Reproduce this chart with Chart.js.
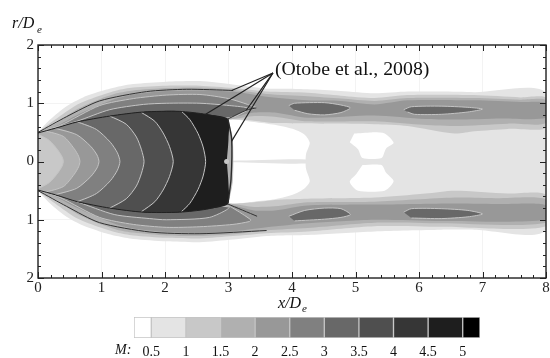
<!DOCTYPE html>
<html>
<head>
<meta charset="utf-8">
<script src="https://cdn.jsdelivr.net/npm/chart.js@4"></script>
<style>
html, body { margin: 0; padding: 0; background: #fff; overflow: hidden; }
#wrap { position: relative; width: 550px; height: 358px; }
canvas { position: absolute; left: 0; filter: blur(0.5px); }
#flow { top: 0; }
#bar { top: 310px; }
</style>
</head>
<body>
<div id="wrap">
<canvas id="flow" width="550" height="358"></canvas>
<canvas id="bar" width="550" height="48"></canvas>
</div>
<script>
// tick labels
const xTicks = [0, 1, 2, 3, 4, 5, 6, 7, 8];
const rTicks = [-2, -1, 0, 1, 2];

// legend
const machTicks = [0.5, 1, 1.5, 2, 2.5, 3, 3.5, 4, 4.5, 5];
const machEdges = [0.25, 0.5, 1, 1.5, 2, 2.5, 3, 3.5, 4, 4.5, 5, 5.25];
const machGrays = ['#ffffff', '#e4e4e4', '#c8c8c8', '#b0b0b0', '#989898', '#808080', '#686868', '#4f4f4f', '#363636', '#1e1e1e', '#000000'];

// contour outlines, [x/De, r/De]
const outer05 = [[0,.5],[.19,.72],[.45,.95],[.71,1.1],[.97,1.2],[1.24,1.28],[1.5,1.33],[2.02,1.37],[2.55,1.38],[3.07,1.32],[3.6,1.25],[3.94,1.25],[4.25,1.24],[4.77,1.21],[5.3,1.17],[5.82,1.2],[6.35,1.2],[6.87,1.19],[8,1.17],
  [8,-1.17],[6.87,-1.17],[6.35,-1.17],[5.3,-1.2],[4.25,-1.26],[3.94,-1.265],[3.6,-1.28],[3.07,-1.34],[2.55,-1.385],[2.02,-1.37],[1.5,-1.33],[1.24,-1.28],[.97,-1.2],[.71,-1.1],[.45,-.95],[.19,-.72],[0,-.5]];
const whiteBehindDisk = [[3.0,.74],[3.4,.68],[3.73,.63],[4.04,.55],[4.2,.46],[4.28,.32],[4.22,.12],[4.22,-.12],[4.28,-.34],[4.2,-.46],[4.04,-.56],[3.73,-.65],[3.4,-.69],[3.0,-.74]];
const streak = [[3.05,.012],[4.22,.035],[4.22,-.035],[3.05,-.012]];
const pocketUpper = [[4.98,.48],[5.25,.5],[5.46,.48],[5.6,.32],[5.48,.22],[5.41,.06],[5.11,.06],[5.04,.21],[4.91,.33]];
const pocketLower = [[5.11,-.06],[5.41,-.06],[5.48,-.19],[5.6,-.34],[5.46,-.5],[5.04,-.5],[4.91,-.35],[5.01,-.22]];

const wing10Upper = [[0,.5],[.27,.72],[.62,.98],[.97,1.13],[1.24,1.22],[1.5,1.27],[2.02,1.3],[2.55,1.3],[3.07,1.26],[3.6,1.2],[4.25,1.18],[4.77,1.13],[5.3,1.09],[5.82,1.14],[6.87,1.14],[7.6,1.1],[8,1.09],
  [8,.58],[7.4,.56],[6.87,.52],[6.56,.48],[5.82,.61],[5.3,.64],[3.73,.66],[3.4,.7],[3.07,.72],[0,.5]];
const wing15Upper = [[0,.5],[.27,.65],[.62,.9],[.97,1.07],[1.24,1.17],[1.5,1.22],[2.02,1.26],[2.55,1.27],[3.07,1.23],[3.6,1.16],[4.25,1.12],[4.77,1.08],[5.3,1.04],[5.82,1.09],[6.87,1.09],[7.6,1.06],[8,1.05],
  [8,.66],[7.4,.65],[6.56,.61],[6.0,.635],[5.3,.69],[4.25,.69],[3.73,.77],[3.4,.78],[3.07,.73],[0,.5]];
const wing20Upper = [[0,.5],[.27,.6],[.62,.8],[.97,.97],[1.24,1.08],[1.5,1.15],[2.02,1.21],[2.55,1.22],[3.07,1.2],[3.6,1.11],[4.25,1.05],[4.77,1.04],[5.3,.98],[5.82,1.05],[6.87,1.05],[7.6,1.02],[8,1],
  [8,.75],[7.3,.74],[6.56,.72],[6.1,.73],[5.3,.79],[4.25,.75],[3.73,.84],[3.4,.84],[3.07,.76],[0,.5]];
const wing25Upper = [[0,.5],[.35,.62],[.97,.96],[1.5,1.08],[2.02,1.14],[2.55,1.15],[3,1.08],[3.3,.98],[3.44,.92],[3.3,.88],[3.07,.76],[0,.5]];
const wing30Upper = [[0,.5],[.61,.69],[1.13,.89],[1.66,.98],[2.02,1],[2.55,1],[3.02,.96],[3.31,.91],[3,.75],[0,.5]];

const wing10Lower = [[0,-.5],[.27,-.72],[.62,-.98],[.97,-1.13],[1.24,-1.22],[1.5,-1.27],[2.02,-1.31],[2.55,-1.32],[3.07,-1.28],[3.6,-1.23],[4.25,-1.2],[5.3,-1.11],[6.35,-1.12],[8,-1.11],
  [8,-.57],[7.4,-.55],[6.56,-.5],[6.1,-.55],[5.3,-.62],[4.25,-.64],[3.73,-.66],[3.4,-.7],[3.07,-.72],[0,-.5]];
const wing15Lower = [[0,-.5],[.27,-.65],[.62,-.9],[.97,-1.07],[1.24,-1.17],[1.5,-1.22],[2.02,-1.27],[2.55,-1.28],[3.07,-1.25],[3.6,-1.18],[4.25,-1.14],[5.3,-1.05],[6.35,-1.06],[8,-1.05],
  [8,-.65],[7.2,-.63],[6.56,-.62],[5.3,-.69],[4.25,-.7],[3.73,-.77],[3.4,-.78],[3.07,-.73],[0,-.5]];
const wing20Lower = [[0,-.5],[.27,-.6],[.62,-.8],[.97,-.97],[1.24,-1.08],[1.5,-1.15],[2.02,-1.21],[2.55,-1.23],[3.07,-1.2],[3.6,-1.13],[4.25,-1.06],[5.3,-1],[6.35,-1.02],[8,-1],
  [8,-.75],[7.3,-.73],[6.56,-.72],[5.3,-.74],[4.25,-.755],[3.73,-.84],[3.4,-.84],[3.07,-.76],[0,-.5]];
const wing25Lower = [[0,-.5],[.35,-.62],[.97,-.96],[1.5,-1.08],[2.02,-1.13],[2.55,-1.12],[3.07,-1.08],[3.33,-1.03],[3.35,-1],[3.07,-.8],[2.99,-.76],[0,-.5]];
const wing30Lower = [[0,-.5],[.61,-.69],[1.2,-.91],[1.76,-.98],[2.02,-1],[2.7,-.96],[3,-.78],[0,-.5]];

const spot1Upper = [[3.95,.96],[4.04,1],[4.51,1.01],[4.77,.97],[4.92,.92],[4.77,.84],[4.51,.8],[4.25,.82],[4.04,.88]];
const spot2Upper = [[5.76,.89],[5.88,.94],[6.35,.95],[6.77,.93],[7,.9],[6.77,.85],[6.35,.81],[5.93,.81],[5.82,.85]];
const spot1Lower = [[3.95,-.94],[4.2,-.84],[4.51,-.8],[4.77,-.81],[4.92,-.91],[4.77,-.96],[4.51,-.99],[4.04,-1.02]];
const spot2Lower = [[5.76,-.87],[5.88,-.81],[6.35,-.81],[6.77,-.84],[7,-.9],[6.77,-.95],[6.35,-.98],[5.88,-.97]];

const diskStrip = [[2.99,.73],[3.06,.38],[3.06,-.34],[2.99,-.73]];
const coreTop = [[0,.49],[.27,.57],[.62,.68],[1.13,.78],[1.66,.85],[2.23,.86],[2.65,.81],[2.99,.73]];
const coreBottom = [[0,-.49],[.27,-.57],[.62,-.69],[1.13,-.8],[1.66,-.87],[2.23,-.87],[2.65,-.82],[2.99,-.73]];
const coreFace = [[3,.4],[2.98,0],[3,-.4]];

// Mach number arcs, each from the upper core edge to the lower one
const arc45 = [[2.26,.86],[2.39,.72],[2.52,.48],[2.6,.25],[2.64,0],[2.6,-.25],[2.52,-.48],[2.39,-.72],[2.26,-.86]];
const arc40 = [[1.63,.84],[1.84,.69],[1.97,.49],[2.07,.26],[2.13,0],[2.07,-.26],[1.97,-.49],[1.84,-.69],[1.63,-.86]];
const arc35 = [[1.13,.78],[1.39,.64],[1.55,.42],[1.63,.2],[1.67,0],[1.63,-.2],[1.55,-.42],[1.39,-.64],[1.13,-.8]];
const arc30 = [[.62,.68],[.92,.55],[1.14,.33],[1.25,.15],[1.29,0],[1.25,-.15],[1.14,-.33],[.92,-.55],[.62,-.69]];
const arc25 = [[.27,.57],[.61,.46],[.83,.26],[.93,.11],[.96,0],[.93,-.11],[.83,-.26],[.61,-.46],[.27,-.57]];
const arc20 = [[.1,.53],[.4,.43],[.57,.22],[.64,.09],[.66,0],[.64,-.09],[.57,-.22],[.4,-.43],[.1,-.53]];
const arc15 = [[0,.47],[.18,.36],[.31,.2],[.38,.08],[.4,0],[.38,-.08],[.31,-.2],[.18,-.36],[0,-.47]];

// dark experimental lines and the leaders from the label
const darkUpper = [[0,.5],[.45,.77],[.97,1.04],[1.71,1.2],[2.34,1.24],[3.07,1.22]];
const darkLower = [[0,-.5],[.45,-.77],[.97,-1.05],[1.76,-1.21],[2.55,-1.24],[3.6,-1.185]];
const darkDisk = [[2.99,.73],[3.05,.38],[3.04,-.3],[2.99,-.72]];
const darkBranchUpper = [[2.99,.73],[3.28,.88],[3.44,.92]];
const darkBranchLower = [[2.99,-.73],[3.45,-.94]];
const leader1 = [[3.7,1.52],[3.05,1.22]];
const leader2 = [[3.7,1.52],[2.64,.81]];
const leader3 = [[3.7,1.52],[3.28,.88]];
const leader4 = [[3.7,1.52],[3.05,.35]];
const diskDot = [[2.97,0]];

const serif = '"Liberation Serif", "Times New Roman", serif';
const inkColor = '#222';
const contourColor = '#c4c4c4';

function pts(list) {
    return list.map(p => ({ x: p[0], y: p[1] }));
}
function area(list, color, edge) {
    return {
        data: pts(list),
        showLine: true,
        fill: 'shape',
        backgroundColor: color,
        borderColor: edge || color,
        borderWidth: edge ? 1 : 0,
        tension: 0.25,
        pointRadius: 0
    };
}
function line(list, color, width) {
    return {
        data: pts(list),
        showLine: true,
        fill: false,
        borderColor: color,
        borderWidth: width,
        tension: 0.25,
        pointRadius: 0
    };
}
// fill for one arc: core edge up to where the arc starts, the arc, core edge back
function arcFill(arc, n, color) {
    return area([...coreTop.slice(0, n), ...arc, ...coreBottom.slice(0, n).reverse()], color);
}

// painted in this order, lightest first
const g = machGrays;
const painted = [
    area(outer05, g[1]),
    area(whiteBehindDisk, '#fff'),
    area(pocketUpper, '#fff'),
    area(pocketLower, '#fff'),
    area(streak, g[1]),
    area(wing10Upper, g[2]), area(wing10Lower, g[2]),
    area(wing15Upper, g[3]), area(wing15Lower, g[3]),
    area(wing20Upper, g[4]), area(wing20Lower, g[4]),
    area(wing25Upper, g[5], contourColor), area(wing25Lower, g[5], contourColor),
    area(wing30Upper, g[6], contourColor), area(wing30Lower, g[6], contourColor),
    area(spot1Upper, g[6], contourColor), area(spot2Upper, g[6], contourColor),
    area(spot1Lower, g[6], contourColor), area(spot2Lower, g[6], contourColor),
    area(diskStrip, g[3], contourColor),
    area([...coreTop, ...coreFace, ...coreBottom.slice().reverse()], g[9]),
    arcFill(arc45, 5, g[8]),
    arcFill(arc40, 4, g[7]),
    arcFill(arc35, 3, g[6]),
    arcFill(arc30, 2, g[5]),
    arcFill(arc25, 1, g[4]),
    arcFill(arc20, 1, g[3]),
    arcFill(arc15, 0, g[2]),
    line(arc45, contourColor, 1), line(arc40, contourColor, 1), line(arc35, contourColor, 1),
    line(arc30, contourColor, 1), line(arc25, contourColor, 1), line(arc20, contourColor, 1), line(arc15, contourColor, 1),
    line(darkUpper, '#333', 1), line(darkLower, '#333', 1),
    line(coreTop, '#222', 1), line(coreBottom, '#222', 1),
    line(darkDisk, '#2a2a2a', 1.4),
    line(darkBranchUpper, '#333', 1), line(darkBranchLower, '#333', 1),
    line(leader1, inkColor, 1.2), line(leader2, inkColor, 1.2),
    line(leader3, inkColor, 1.2), line(leader4, inkColor, 1.2),
    { data: pts(diskDot), showLine: false, pointRadius: 2.5, pointBackgroundColor: '#c8c8c8', pointBorderWidth: 0 }
];

// frame, inward ticks on all four sides, and the free text
const flowDecor = {
    id: 'flowDecor',
    afterDraw(chart) {
        const ctx = chart.ctx;
        const a = chart.chartArea;
        const sx = chart.scales.x;
        const sy = chart.scales.y;
        ctx.save();
        ctx.strokeStyle = inkColor;
        ctx.lineWidth = 1;
        ctx.beginPath();
        for (let i = 0; i <= 40; i++) {
            const v = i * 0.2;
            const len = i % 5 === 0 ? 6 : 3;
            const px = Math.round(sx.getPixelForValue(v)) + 0.5;
            ctx.moveTo(px, a.top); ctx.lineTo(px, a.top + len);
            ctx.moveTo(px, a.bottom); ctx.lineTo(px, a.bottom - len);
        }
        for (let i = 0; i <= 20; i++) {
            const v = -2 + i * 0.2;
            const len = i % 5 === 0 ? 6 : 3;
            const py = Math.round(sy.getPixelForValue(v)) + 0.5;
            ctx.moveTo(a.left, py); ctx.lineTo(a.left + len, py);
            ctx.moveTo(a.right, py); ctx.lineTo(a.right - len, py);
        }
        ctx.stroke();
        ctx.lineWidth = 1.4;
        ctx.strokeRect(a.left, a.top, a.right - a.left, a.bottom - a.top);

        ctx.fillStyle = '#111';
        ctx.textAlign = 'left';
        ctx.textBaseline = 'alphabetic';
        ctx.font = '19.8px ' + serif;
        ctx.fillText('(Otobe et al., 2008)', 275, 75);
        ctx.font = 'italic 16px ' + serif;
        ctx.fillText('x/D', 278, 308);
        ctx.fillText('r/D', 12, 28);
        ctx.font = 'italic 11px ' + serif;
        ctx.fillText('e', 302, 312);
        ctx.fillText('e', 37, 33);
        ctx.restore();
    }
};

new Chart(document.getElementById('flow'), {
    type: 'scatter',
    data: { datasets: painted.reverse() },
    plugins: [flowDecor],
    options: {
        responsive: false,
        animation: false,
        layout: { padding: 0 },
        plugins: { legend: { display: false }, tooltip: { enabled: false } },
        scales: {
            x: {
                type: 'linear',
                min: 0,
                max: 8,
                afterFit: s => { s.height = 80; s.paddingLeft = 0; s.paddingRight = 3; },
                afterBuildTicks: s => { s.ticks = xTicks.map(v => ({ value: v })); },
                grid: { color: '#f3f3f3', drawTicks: false },
                border: { display: false },
                ticks: { maxRotation: 0, padding: 1, color: inkColor, font: { family: serif, size: 15 } }
            },
            y: {
                type: 'linear',
                min: -2,
                max: 2,
                afterFit: s => { s.width = 38; s.paddingTop = 45; s.paddingBottom = 0; },
                afterBuildTicks: s => { s.ticks = rTicks.map(v => ({ value: v })); },
                grid: { color: '#f3f3f3', drawTicks: false },
                border: { display: false },
                ticks: { padding: 4, color: inkColor, font: { family: serif, size: 15 }, callback: v => Math.abs(v) }
            }
        }
    }
});

const machLabel = {
    id: 'machLabel',
    afterDraw(chart) {
        const ctx = chart.ctx;
        ctx.save();
        ctx.fillStyle = '#111';
        ctx.font = 'italic 14px ' + serif;
        ctx.fillText('M:', 115, 44);
        ctx.restore();
    }
};

new Chart(document.getElementById('bar'), {
    type: 'bar',
    data: {
        labels: ['M'],
        datasets: machGrays.map((c, i) => ({
            data: [[machEdges[i], machEdges[i + 1]]],
            backgroundColor: c,
            borderColor: '#c4c4c4',
            borderWidth: 1,
            borderSkipped: false,
            grouped: false,
            barPercentage: 1,
            categoryPercentage: 1
        }))
    },
    plugins: [machLabel],
    options: {
        indexAxis: 'y',
        responsive: false,
        animation: false,
        layout: { padding: { left: 134, right: 70, top: 7, bottom: 0 } },
        plugins: { legend: { display: false }, tooltip: { enabled: false } },
        scales: {
            x: {
                type: 'linear',
                min: machEdges[0],
                max: machEdges[machEdges.length - 1],
                afterFit: s => { s.height = 20; s.paddingLeft = 0; s.paddingRight = 0; },
                afterBuildTicks: s => { s.ticks = machTicks.map(v => ({ value: v })); },
                grid: { display: false },
                border: { display: false },
                ticks: { maxRotation: 0, padding: -2, color: '#111', font: { family: serif, size: 14 }, callback: v => String(v) }
            },
            y: { display: false }
        }
    }
});
</script>
</body>
</html>
